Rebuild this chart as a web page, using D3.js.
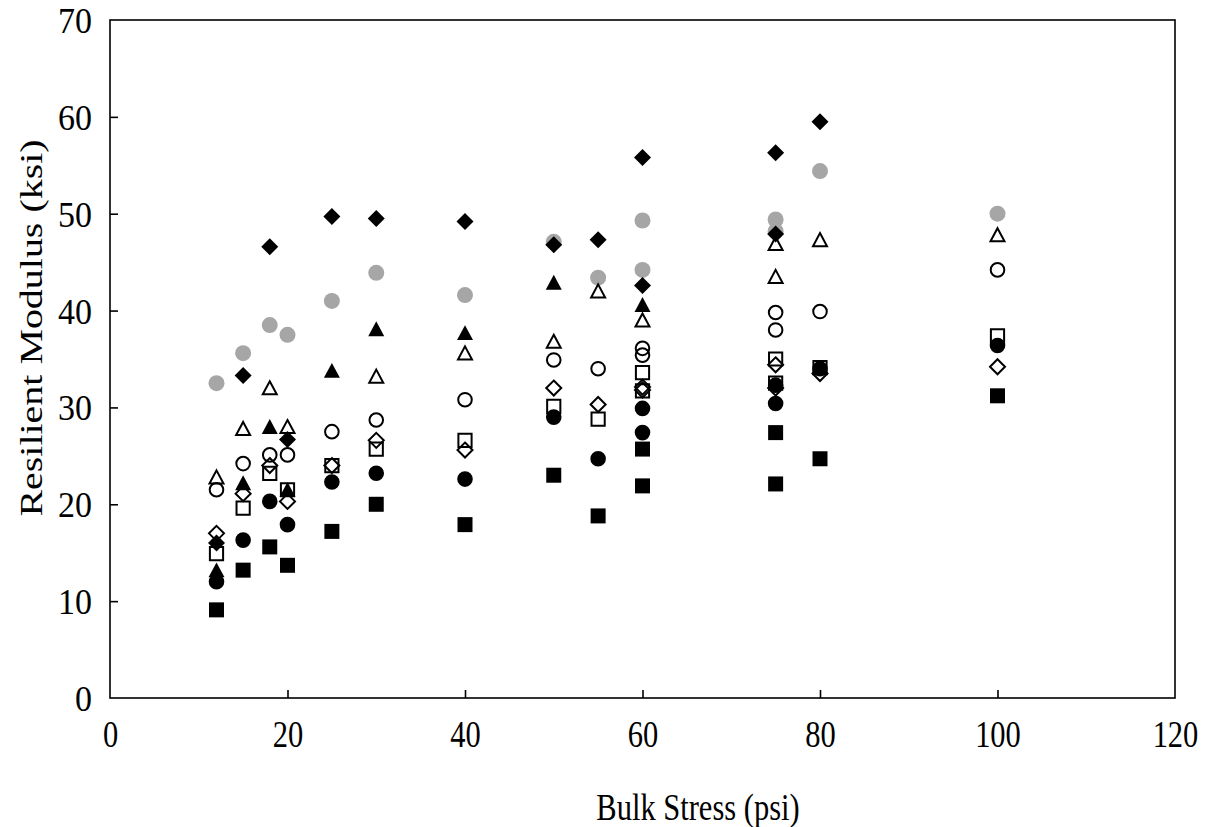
<!DOCTYPE html>
<html>
<head>
<meta charset="utf-8">
<script src="https://cdn.jsdelivr.net/npm/d3@7/dist/d3.min.js"></script>
<style>
  html, body { margin: 0; padding: 0; background: #fff; }
  text { font-family: "Liberation Serif", "Times New Roman", serif; fill: #000; }
</style>
</head>
<body>
<svg id="chart" width="1205" height="827"></svg>
<script>
// ---- Data ----
const bulkStress = [12, 15, 18, 20, 25, 30, 40, 50, 60, 55, 60, 75, 75, 80, 100];
const grayCircle     = [32.5, 35.6, 38.5, 37.5, 41.0, 43.9, 41.6, 47.1, 49.3, 43.4, 44.2, 49.4, 48.2, 54.4, 50.0];
const openTriangle   = [22.8, 27.8, 32.0, 28.0, null, 33.2, 35.6, 36.8, 39.0, 42.0, null, 46.9, 43.5, 47.3, 47.8];
const openCircle     = [21.5, 24.2, 25.1, 25.1, 27.5, 28.7, 30.8, 34.9, 36.1, 34.0, 35.4, 39.8, 38.0, 39.9, 44.2];
const openSquare     = [14.9, 19.6, 23.2, 21.5, 24.0, 25.7, 26.6, 30.1, 33.6, 28.8, 31.7, 35.0, 32.5, 34.1, 37.4];
const openDiamond    = [17.0, 21.1, 24.0, 20.3, 24.0, 26.6, 25.6, 32.0, 32.1, 30.3, 31.8, 34.4, 32.0, 33.5, 34.2];
const filledSquare   = [9.1, 13.2, 15.6, 13.7, 17.2, 20.0, 17.9, 23.0, 25.7, 18.8, 21.9, 27.4, 22.1, 24.7, 31.2];
const filledCircle   = [12.0, 16.3, 20.3, 17.9, 22.3, 23.2, 22.6, 29.0, 29.9, 24.7, 27.4, 32.3, 30.4, 34.0, 36.4];
const filledTriangle = [13.2, 22.2, 28.0, 21.5, 33.8, 38.1, 37.7, 42.9, 40.6, null, null, null, null, null, null];
const filledDiamond  = [16.0, 33.3, 46.6, 26.7, 49.7, 49.5, 49.2, 46.8, 55.8, 47.3, 42.6, 56.3, 47.9, 59.5, null];

const xTicks = [0, 20, 40, 60, 80, 100, 120];
const yTicks = [0, 10, 20, 30, 40, 50, 60, 70];
const xTitle = "Bulk Stress (psi)";
const yTitle = "Resilient Modulus (ksi)";

(function () {
// ---- Layout ----
const svg = d3.select("#chart");
const mLeft = 110, mRight = 1175, mTop = 20, mBottom = 698;
const x = d3.scaleLinear().domain([0, 120]).range([mLeft, mRight]);
const y = d3.scaleLinear().domain([0, 70]).range([mBottom, mTop]);
const fontSize = 30.5, stretch = 1.25; // x texts are taller than wide in the reference

// custom symbol shapes (size = half-extent in px)
const shapes = {
  circle: { draw(ctx, s) { ctx.moveTo(s, 0); ctx.arc(0, 0, s, 0, 2 * Math.PI); } },
  square: { draw(ctx, s) { ctx.rect(-s, -s, 2 * s, 2 * s); } },
  diamond: { draw(ctx, s) { ctx.moveTo(0, -s); ctx.lineTo(s, 0); ctx.lineTo(0, s); ctx.lineTo(-s, 0); ctx.closePath(); } },
  triangle: { draw(ctx, s) { const h = s * 1.8; ctx.moveTo(0, -h / 2 - 0.5); ctx.lineTo(s, h / 2); ctx.lineTo(-s, h / 2); ctx.closePath(); } }
};

const series = [
  { values: grayCircle,     shape: "circle",   size: 8.0, fill: "#a6a6a6", stroke: "none" },
  { values: openTriangle,   shape: "triangle", size: 7.0, fill: "none", stroke: "#000" },
  { values: openCircle,     shape: "circle",   size: 6.8, fill: "none", stroke: "#000" },
  { values: openSquare,     shape: "square",   size: 6.6, fill: "none", stroke: "#000" },
  { values: openDiamond,    shape: "diamond",  size: 7.5, fill: "none", stroke: "#000" },
  { values: filledSquare,   shape: "square",   size: 7.5, fill: "#000", stroke: "none" },
  { values: filledCircle,   shape: "circle",   size: 7.8, fill: "#000", stroke: "none" },
  { values: filledTriangle, shape: "triangle", size: 8.0, fill: "#000", stroke: "none" },
  { values: filledDiamond,  shape: "diamond",  size: 8.5, fill: "#000", stroke: "none" }
];

// frame
svg.append("rect")
  .attr("x", mLeft).attr("y", mTop)
  .attr("width", mRight - mLeft).attr("height", mBottom - mTop)
  .attr("fill", "none").attr("stroke", "#000").attr("stroke-width", 1.6);

// axes with inward ticks
const xAxis = svg.append("g").attr("transform", `translate(0,${mBottom})`)
  .call(d3.axisBottom(x).tickValues(xTicks).tickSize(-8).tickFormat(d3.format("d")));
const yAxis = svg.append("g").attr("transform", `translate(${mLeft},0)`)
  .call(d3.axisLeft(y).tickValues(yTicks).tickSize(-8).tickFormat(d3.format("d")));
[xAxis, yAxis].forEach(g => {
  g.select(".domain").remove();
  g.selectAll(".tick line").attr("stroke", "#000").attr("stroke-width", 1.6);
  g.selectAll(".tick text")
    .attr("font-family", "Liberation Serif, serif")
    .attr("x", null).attr("y", null).attr("dy", "0.35em");
});
xAxis.selectAll(".tick line").filter(d => d === 0 || d === 120).remove();
yAxis.selectAll(".tick line").filter(d => d === 0 || d === 70).remove();
xAxis.selectAll(".tick text").attr("font-size", fontSize)
  .attr("transform", `translate(0,36) scale(1,${stretch})`);
yAxis.selectAll(".tick text").attr("font-size", 34)
  .attr("transform", `translate(-18,0) scale(1,1.05)`);

// points
series.forEach(s => {
  const pts = bulkStress.map((b, i) => ({ b, v: s.values[i] })).filter(d => d.v != null);
  svg.append("g").selectAll("path").data(pts).join("path")
    .attr("transform", d => `translate(${x(d.b)},${y(d.v)})`)
    .attr("d", d3.symbol().type(shapes[s.shape]).size(s.size))
    .attr("fill", s.fill)
    .attr("stroke", s.stroke)
    .attr("stroke-width", s.stroke === "none" ? 0 : 2);
});

// titles
svg.append("text")
  .attr("transform", `translate(698,807) scale(1,${stretch})`)
  .attr("dy", "0.35em")
  .attr("text-anchor", "middle").attr("font-size", fontSize).text(xTitle);
svg.append("text")
  .attr("transform", `translate(31,328) scale(1,1.31) rotate(-90)`)
  .attr("dy", "0.35em")
  .attr("text-anchor", "middle").attr("font-size", fontSize).text(yTitle);
})();
</script>
</body>
</html>
